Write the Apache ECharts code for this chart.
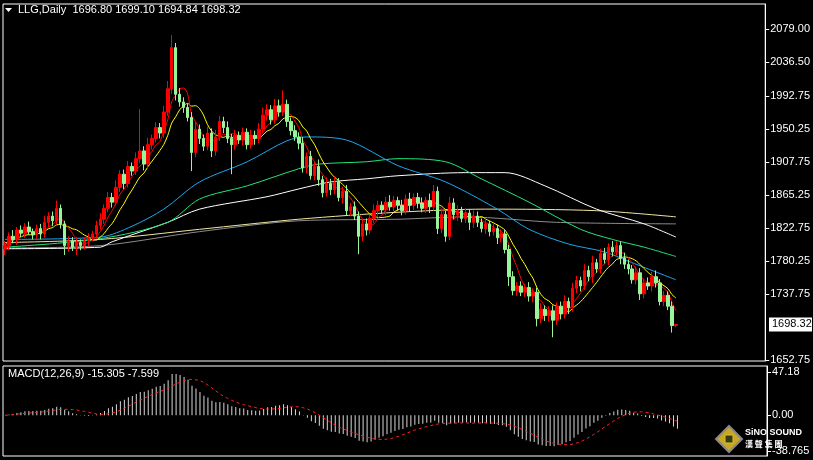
<!DOCTYPE html>
<html><head><meta charset="utf-8">
<script src="https://cdn.jsdelivr.net/npm/echarts@6/dist/echarts.min.js"></script>
<style>html,body{margin:0;background:#000}#c{width:813px;height:460px}</style>
</head><body><div id="c"></div>
<script>
const closes=[1800,1812,1808,1820,1816,1824,1818,1814,1822,1815,
1830,1838,1832,1848,1828,1800,1806,1798,1804,1800,
1806,1810,1815,1826,1834,1848,1862,1856,1875,1892,
1880,1902,1896,1912,1922,1905,1930,1938,1952,1945,
1972,2002,2055,1995,1985,1978,1965,1920,1950,1938,
1928,1945,1922,1940,1960,1952,1938,1930,1942,1936,
1946,1930,1942,1938,1950,1968,1975,1962,1980,1972,
1982,1960,1948,1940,1932,1900,1915,1890,1902,1885,
1868,1880,1872,1882,1862,1870,1845,1850,1838,1812,
1828,1820,1835,1845,1852,1846,1856,1850,1858,1852,
1845,1860,1852,1862,1855,1848,1858,1850,1870,1822,
1840,1812,1855,1840,1845,1835,1842,1830,1838,1830,
1822,1828,1818,1822,1810,1815,1795,1760,1742,1748,
1740,1746,1735,1740,1706,1718,1710,1716,1704,1722,
1712,1728,1720,1745,1755,1748,1768,1760,1778,1770,
1790,1782,1798,1792,1800,1784,1776,1770,1756,1765,
1738,1752,1748,1760,1752,1728,1736,1722,1697,1698.32];
const wickUp=[6,5,8,4,6,5,7,4,5,6, 8,5,6,10,5,4,6,5,7,4, 5,6,4,6,8,5,7,6,9,5, 6,7,5,8,54,6,9,5,7,6,
8,10,16,6,8,6,5,7,10,6, 5,8,6,9,7,6,8,6,7,5, 6,5,7,6,8,10,7,6,9,8, 18,6,5,7,6,8,5,7,6,9,
5,8,6,7,5,6,8,5,7,6, 6,7,5,8,6,5,7,9,6,5, 7,6,8,5,6,7,5,9,8,6, 7,5,8,6,7,5,6,5,7,6,
5,6,4,7,5,6,5,6,7,5, 6,5,7,5,6,8,5,6,7,5, 6,8,5,7,6,5,8,6,9,5, 6,7,5,8,6,5,7,6,5,8,
6,5,7,6,8,5,6,5,6,0.78];
const wickDn=[8,6,5,7,5,6,4,6,5,7, 5,6,7,5,6,12,8,5,10,6, 5,7,4,6,5,6,5,7,5,6, 7,5,6,5,6,8,5,6,5,7,
6,5,7,8,6,7,5,24,6,7, 6,5,8,6,5,7,6,38,6,5, 7,6,5,8,6,5,7,6,5,6, 5,7,6,5,8,6,7,5,6,8,
6,5,7,6,5,8,6,7,5,23, 6,7,5,6,8,5,7,5,6,7, 6,5,8,6,7,5,6,8,5,7, 6,7,5,6,8,5,6,10,7,6,
5,7,6,5,8,6,5,12,6,7, 5,6,7,8,10,6,7,8,22,6, 7,6,8,5,6,7,5,6,8,5, 6,5,7,6,5,8,6,7,5,6,
8,6,5,7,6,5,6,5,9,2.16];
// long moving averages read at [candle index, value]
const maBlue=[[0,1808],[24,1811],[32,1825],[40,1847],[49,1882],[61,1908],[71,1935],[76,1940],[86,1936],[99,1903],[111,1882],[124,1847],[132,1821],[142,1802],[151,1792],[157,1780],[169,1756]];
const maGreen=[[0,1798],[24,1809],[41,1830],[49,1860],[61,1877],[74,1899],[79,1905],[91,1908],[99,1912],[111,1908],[120,1886],[132,1856],[145,1821],[153,1808],[161,1798],[169,1786]];
const maWhite=[[0,1796],[24,1798],[27,1805],[41,1830],[49,1847],[66,1863],[74,1873],[82,1882],[91,1886],[99,1890],[116,1894],[126,1894],[136,1877],[149,1847],[161,1828],[169,1811]];
const maBeige=[[0,1804],[24,1808],[49,1821],[74,1834],[99,1843],[121,1847],[149,1845],[169,1837]];
const maGray=[[0,1797],[24,1800],[49,1818],[74,1832],[99,1834],[116,1837],[139,1830],[169,1828]];
const priceTicks=[2079.00,2036.50,1992.75,1950.25,1907.75,1865.25,1822.75,1780.25,1737.75,1652.75];
const macdTicks=[47.18,0.00,-38.765];
const headerText='LLG,Daily  1696.80 1699.10 1694.84 1698.32';

const N=192, n=closes.length;
const cats=[...Array(N).keys()];
const ohlc=closes.map((c,i)=>{const o=i?closes[i-1]:c-4;return [o,c,Math.min(o,c)-wickDn[i],Math.max(o,c)+wickUp[i]];});
function sma(p){return closes.map((_,i)=>{const s=closes.slice(Math.max(0,i-p+1),i+1);return +(s.reduce((a,b)=>a+b,0)/s.length).toFixed(2);});}
function sparse(pts){const a=new Array(n).fill(null);pts.forEach(([i,v])=>a[i]=v);return a;}
function ema(arr,p){const k=2/(p+1);let e=arr[0];return arr.map(v=>e=v*k+e*(1-k));}
const e12=ema(closes,12),e26=ema(closes,26);
const macd=closes.map((_,i)=>+(e12[i]-e26[i]).toFixed(3));
const sig=macd.map((_,i)=>{const s=macd.slice(Math.max(0,i-8),i+1);return +(s.reduce((a,b)=>a+b,0)/s.length).toFixed(3);});

const F='Liberation Sans';
const txt={color:'#fff',fontFamily:F,fontSize:11};
const line=(d,c,w)=>({type:'line',data:d,symbol:'none',connectNulls:true,smooth:0.3,lineStyle:{color:c,width:w||1},xAxisIndex:0,yAxisIndex:0,silent:true,z:3});
const ch=echarts.init(document.getElementById('c'));
ch.setOption({
 backgroundColor:'#000',animation:false,
 grid:[{left:3,right:46,top:4,height:357,show:true,borderColor:'#fff',borderWidth:1},
       {left:3,right:46,top:366,height:90,show:true,borderColor:'#fff',borderWidth:1}],
 xAxis:[{type:'category',data:cats,gridIndex:0,show:false,boundaryGap:true},
        {type:'category',data:cats,gridIndex:1,show:false,boundaryGap:true}],
 yAxis:[{type:'value',gridIndex:0,position:'right',min:1651.4,max:2111.2,splitLine:{show:false},
   axisLine:{show:true,lineStyle:{color:'#fff'}},axisTick:{show:true,length:4,customValues:priceTicks,lineStyle:{color:'#fff'}},
   axisLabel:{...txt,margin:5,customValues:priceTicks,formatter:v=>v.toFixed(2)}},
  {type:'value',gridIndex:1,position:'right',min:-44.2,max:53.7,splitLine:{show:false},
   axisLine:{show:true,lineStyle:{color:'#fff'}},axisTick:{show:true,length:4,customValues:macdTicks,lineStyle:{color:'#fff'}},
   axisLabel:{...txt,margin:5,customValues:macdTicks,formatter:v=>v===0?'0.00':String(v)}}],
 series:[
  line(sparse(maGray),'#8c8c8c'),line(sparse(maBeige),'#f3e5a0'),line(sparse(maWhite),'#ffffff'),
  line(sparse(maGreen),'#1ee67a'),line(sparse(maBlue),'#1aa8f0'),
  {type:'candlestick',data:ohlc,barWidth:3,z:4,itemStyle:{color:'#ff0000',color0:'#98f59a',borderColor:'#ff0000',borderColor0:'#98f59a',borderWidth:1}},
  line(sma(9),'#ffff00'),line(sma(5),'#ff0000'),
  {type:'bar',data:macd,xAxisIndex:1,yAxisIndex:1,barWidth:1,itemStyle:{color:'#d8d8d8'},silent:true},
  {type:'line',data:sig,xAxisIndex:1,yAxisIndex:1,symbol:'none',lineStyle:{color:'#ff2020',width:1,type:[3,3]},silent:true}
 ]
});
const py=ch.convertToPixel({yAxisIndex:0},closes[n-1]);
ch.setOption({graphic:[
 {type:'polygon',shape:{points:[[5,8],[12,8],[8.5,12]]},style:{fill:'#fff'}},
 {type:'text',left:18,top:4,style:{text:headerText,fill:'#fff',font:'11px '+F}},
 {type:'text',left:8,top:368,style:{text:'MACD(12,26,9) -15.305 -7.599',fill:'#fff',font:'11px '+F}},
 {type:'rect',shape:{x:769,y:py-7,width:43,height:14},style:{fill:'#fff'}},
 {type:'text',x:772,y:py-6,style:{text:closes[n-1].toFixed(2),fill:'#000',font:'11px '+F}},
 {type:'polygon',shape:{points:[[729,426],[742,439],[729,452],[716,439]]},style:{fill:'#c9a623',stroke:'#888',lineWidth:2}},
 {type:'rect',shape:{x:725,y:435,width:8,height:8},style:{fill:'#3a3a10',stroke:'#d4c33a'}},
 {type:'text',x:745,y:428,style:{text:'SiNO SOUND',fill:'#fff',font:'bold 9px '+F}},
 {type:'text',x:745,y:440,style:{text:'漢 聲 集 團',fill:'#fff',font:'bold 8px Noto Sans CJK TC'}}
]});
</script></body></html>
